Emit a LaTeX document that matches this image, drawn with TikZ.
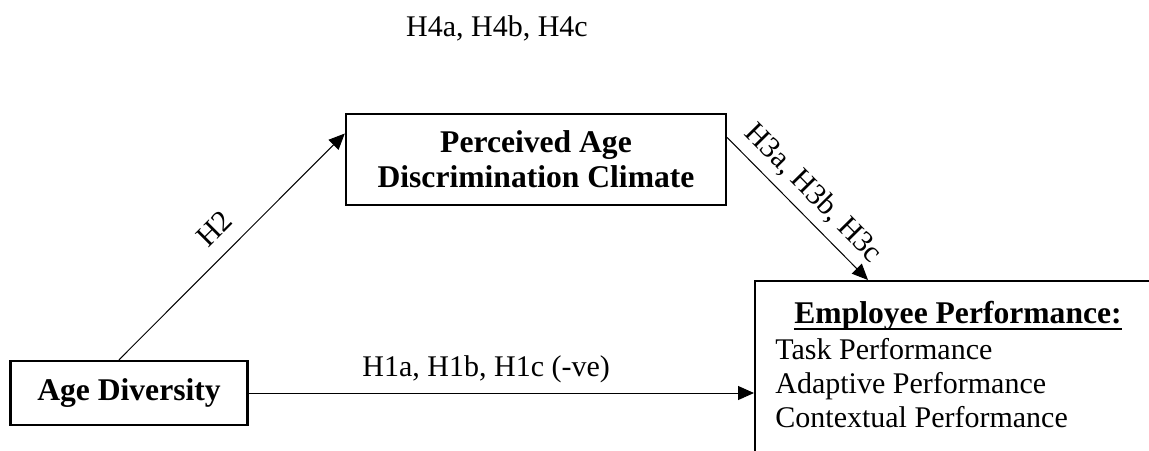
\documentclass[tikz,border=0pt]{standalone}
\usepackage{fontspec}
\setmainfont{Liberation Serif}
\usetikzlibrary{arrows.meta, positioning, calc}

\tikzset{
    box/.style = {draw, line width=1.2pt, inner sep=0pt, align=center,
                  font=\fontsize{15.8}{17.5}\selectfont\bfseries},
    hyp/.style = {font=\fontsize{15}{18}\selectfont},
    path/.style = {line width=0.5pt, -{Triangle[length=8pt, width=7pt]}}
}

\begin{document}
\begin{tikzpicture}[x=0.5pt, y=0.5pt]
    \useasboundingbox (0,-450) rectangle (1149,0);
    \clip (0,-450) rectangle (1149,0);
    \node (age) [box, minimum width=118.5pt, minimum height=32pt] at (129,-393) {Age Diversity};
    \node (perc) [box, minimum width=190pt, minimum height=45.5pt] at (536,-159.5) {Perceived Age\\Discrimination Climate};
    \node (perf) [box, anchor=north west, minimum width=220pt, minimum height=110pt] at (754,-280) {};
    \node (perfhead) [anchor=base, inner sep=0pt, font=\fontsize{15.8}{18}\selectfont\bfseries] at (958,-323) {Employee Performance:};
    \draw [line width=1pt] ([yshift=-2.8pt]perfhead.base west) -- ([yshift=-2.8pt]perfhead.base east);
    \node (task) [hyp, anchor=base west, inner sep=0pt] at (775,-359) {Task Performance};
    \node (adapt) [hyp, anchor=base west, inner sep=0pt] at (775,-393) {Adaptive Performance};
    \node (context) [hyp, anchor=base west, inner sep=0pt] at (775,-427) {Contextual Performance};
    \node (h4) [hyp] at (497,-28) {H4a, H4b, H4c};
    % paths
    \draw [path] ([xshift=-5pt]age.north) -- node[hyp, sloped, above=4pt] {H2} ([yshift=13pt]perc.west);
    \draw [path] ([yshift=11pt]perc.east) -- node[hyp, sloped, above=1pt] {H3a, H3b, H3c} ([xshift=57pt]perf.north west);
    \draw [path] (age.east) -- node[hyp, pos=0.47, above=1.5pt] {H1a, H1b, H1c (-ve)} (age.east -| perf.west);
\end{tikzpicture}
\end{document}
